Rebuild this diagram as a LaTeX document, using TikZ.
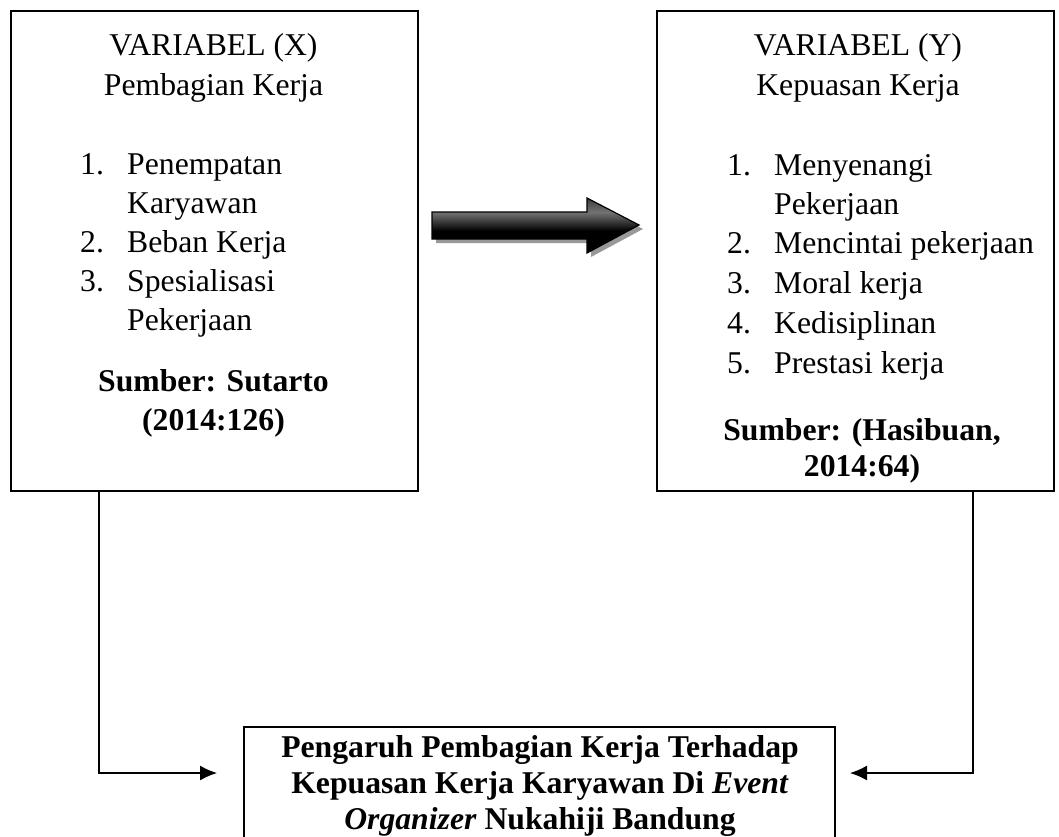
\documentclass[tikz,border=0pt]{standalone}
\usepackage{fontspec}
\setmainfont{Liberation Serif}
\usetikzlibrary{arrows.meta}
\pgfdeclareverticalshading{arrowshade}{100bp}{color(0bp)=(black!90); color(25bp)=(black); color(45bp)=(black); color(62bp)=(black!55); color(80bp)=(black!85); color(100bp)=(black)}
\begin{document}
\begin{tikzpicture}[x=1pt,y=-1pt,
  box/.style={draw, line width=1.8pt, inner sep=0pt, anchor=north west},
  txt/.style={inner sep=0pt, anchor=base, font=\fontsize{31.7}{38}\selectfont},
  itm/.style={inner sep=0pt, anchor=base west, font=\fontsize{31.7}{38}\selectfont},
  bld/.style={inner sep=0pt, anchor=base, font=\fontsize{31.7}{38}\selectfont\bfseries},
  conn/.style={line width=1.3pt, -{Latex[length=17pt,width=15pt]}}]
\useasboundingbox (0,0) rectangle (1059,836);
% boxes
\node[box, minimum width=407pt, minimum height=480pt] (X) at (10,10) {};
\node[box, minimum width=397pt, minimum height=480pt] (Y) at (656,10) {};
\node[box, minimum width=591pt, minimum height=140pt] (Z) at (243,726) {};
% left box text
\node[txt] (xt) at (213.5,55) {VARIABEL (X)};
\node[txt] (xs) at (213.5,95) {Pembagian Kerja};
\node[itm] (xn1) at (80,174) {1.};
\node[itm] (xi1) at (127,174) {Penempatan};
\node[itm] (xi1b) at (127,213) {Karyawan};
\node[itm] (xn2) at (80,252) {2.};
\node[itm] (xi2) at (127,252) {Beban Kerja};
\node[itm] (xn3) at (80,291) {3.};
\node[itm] (xi3) at (127,291) {Spesialisasi};
\node[itm] (xi3b) at (127,330) {Pekerjaan};
\node[bld] (xsrc1) at (213.5,391) {Sumber: Sutarto};
\node[bld] (xsrc2) at (213.5,430) {(2014:126)};
% right box text
\node[txt] (yt) at (858,55) {VARIABEL (Y)};
\node[txt] (ys) at (858,95) {Kepuasan Kerja};
\node[itm] (yn1) at (727,175) {1.};
\node[itm] (yi1) at (774,175) {Menyenangi};
\node[itm] (yi1b) at (774,214) {Pekerjaan};
\node[itm] (yn2) at (727,253) {2.};
\node[itm] (yi2) at (774,253) {Mencintai pekerjaan};
\node[itm] (yn3) at (727,293) {3.};
\node[itm] (yi3) at (774,293) {Moral kerja};
\node[itm] (yn4) at (727,333) {4.};
\node[itm] (yi4) at (774,333) {Kedisiplinan};
\node[itm] (yn5) at (727,373) {5.};
\node[itm] (yi5) at (774,373) {Prestasi kerja};
\node[bld] (ysrc1) at (862,440) {Sumber: (Hasibuan,};
\node[bld] (ysrc2) at (862,476) {2014:64)};
% bottom box text
\node[bld] (z1) at (540,757) {Pengaruh Pembagian Kerja Terhadap};
\node[bld] (z2) at (540,793) {Kepuasan Kerja Karyawan Di \textit{Event}};
\node[bld] (z3) at (540,829) {\textit{Organizer} Nukahiji Bandung};
% big arrow
\fill[black!40] (436,216) -- (591,216) -- (591,202) -- (643,229) -- (591,257) -- (591,243) -- (436,243) -- cycle;
\shade[shading=arrowshade, draw=black, line width=1.2pt] (432,212) -- (587,212) -- (587,198) -- (639,225) -- (587,253) -- (587,239) -- (432,239) -- cycle;
% connectors
\coordinate (zl) at (217,773);
\coordinate (zr) at (850,773);
\draw[conn] ([xshift=89pt]X.south west) |- (zl);
\draw[conn] ([xshift=317pt]Y.south west) |- (zr);
\end{tikzpicture}
\end{document}
